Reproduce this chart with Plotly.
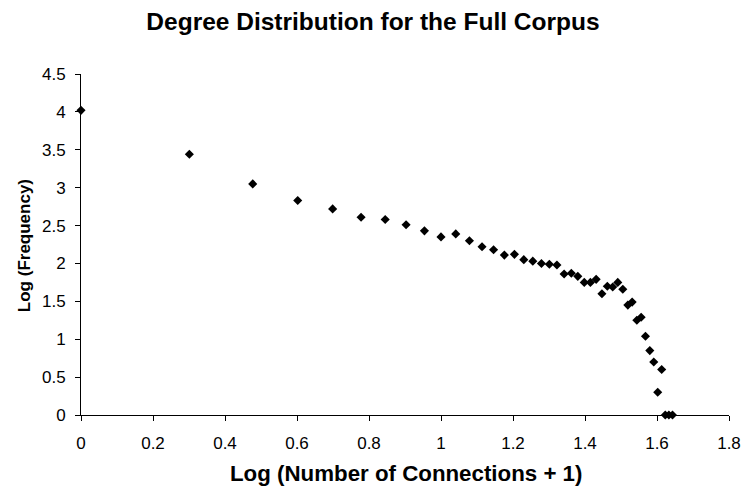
import plotly.graph_objects as go

# log10(number of connections + 1)
log_connections = [0, 0.301, 0.477, 0.602, 0.699, 0.778, 0.845, 0.903, 0.954, 1.0,
                   1.041, 1.079, 1.114, 1.146, 1.176, 1.204, 1.230, 1.255, 1.279, 1.301,
                   1.322, 1.342, 1.362, 1.380, 1.398, 1.415, 1.431, 1.447, 1.462, 1.477,
                   1.491, 1.505, 1.519, 1.531, 1.544, 1.556, 1.568, 1.580, 1.591, 1.602,
                   1.613, 1.623, 1.633, 1.643]
# log10(frequency)
log_frequency = [4.02, 3.44, 3.05, 2.83, 2.72, 2.61, 2.58, 2.51, 2.43, 2.35,
                 2.39, 2.30, 2.22, 2.18, 2.11, 2.12, 2.05, 2.03, 2.00, 1.99,
                 1.98, 1.86, 1.87, 1.83, 1.75, 1.75, 1.79, 1.60, 1.70, 1.69,
                 1.75, 1.66, 1.45, 1.49, 1.25, 1.29, 1.04, 0.85, 0.70, 0.30,
                 0.60, 0.0, 0.0, 0.0]

x_ticks = [0, 0.2, 0.4, 0.6, 0.8, 1.0, 1.2, 1.4, 1.6, 1.8]
x_ticktext = ["0", "0.2", "0.4", "0.6", "0.8", "1", "1.2", "1.4", "1.6", "1.8"]
y_ticks = [0, 0.5, 1, 1.5, 2, 2.5, 3, 3.5, 4, 4.5]
y_ticktext = ["0", "0.5", "1", "1.5", "2", "2.5", "3", "3.5", "4", "4.5"]

TITLE = "Degree Distribution for the Full Corpus"
X_TITLE = "Log (Number of Connections + 1)"
Y_TITLE = "Log (Frequency)"

FONT = "Liberation Sans, Arial, sans-serif"

fig = go.Figure()
fig.add_trace(go.Scatter(
    x=log_connections, y=log_frequency, mode="markers",
    marker=dict(symbol="diamond", size=7, color="black"),
    cliponaxis=False, showlegend=False,
))

fig.update_layout(
    width=743, height=489,
    margin=dict(l=81, r=14, t=74, b=74),
    paper_bgcolor="white", plot_bgcolor="white",
    font=dict(family=FONT, color="black", size=16),
    title=dict(text="<b>" + TITLE + "</b>",
               x=0.502, xanchor="center", y=0.957, yanchor="middle",
               font=dict(family=FONT, size=24.5, color="black")),
    xaxis=dict(range=[0, 1.8], tickvals=x_ticks, ticktext=x_ticktext,
               showgrid=False, zeroline=False, showline=True, linecolor="black",
               linewidth=1, ticks="outside", ticklen=5, tickcolor="black",
               tickfont=dict(size=17, color="black"), automargin=False,
               ticklabelstandoff=8),
    yaxis=dict(range=[0, 4.5], tickvals=y_ticks, ticktext=y_ticktext,
               showgrid=False, zeroline=False, showline=True, linecolor="black",
               linewidth=1, ticks="outside", ticklen=5, tickcolor="black",
               tickfont=dict(size=17, color="black"), automargin=False,
               ticklabelstandoff=6),
    annotations=[
        dict(text="<b>" + X_TITLE + "</b>", xref="paper", yref="paper",
             x=0.502, y=-0.172, xanchor="center", yanchor="middle", showarrow=False,
             font=dict(family=FONT, size=22.3, color="black")),
        dict(text="<b>" + Y_TITLE + "</b>", xref="paper", yref="paper",
             x=-0.088, y=0.498, xanchor="center", yanchor="middle", showarrow=False,
             textangle=-90, font=dict(family=FONT, size=17, color="black")),
    ],
)

fig.write_html("out.html")
